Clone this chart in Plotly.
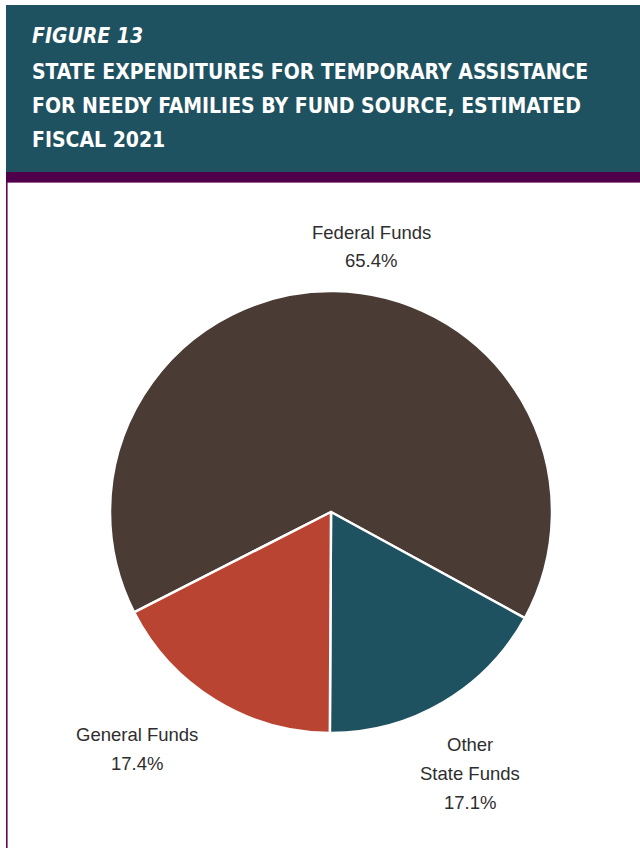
import plotly.graph_objects as go

# Fund sources and their shares of estimated fiscal 2021 TANF spending (%)
sources = ["Federal Funds", "Other<br>State Funds", "General Funds"]
shares = [65.4, 17.1, 17.4]
colors = ["#4a3b35", "#1f5261", "#b94431"]

W, H = 640, 848

def px_x(x):
    return x / W

def px_y(y):
    return 1 - y / H

fig = go.Figure(go.Pie(
    labels=sources,
    values=shares,
    sort=False,
    direction="clockwise",
    rotation=243,
    marker=dict(colors=colors, line=dict(color="white", width=2.5)),
    textinfo="none",
    hoverinfo="label+percent",
    showlegend=False,
    domain=dict(x=[px_x(110), px_x(552)], y=[px_y(733), px_y(291)]),
))

# Outside labels around the pie, one annotation per line for wider leading
label_anchor = [(371, 232), (470, 744), (137, 734)]
line_gap = 29
label_font = dict(family="Liberation Sans, Arial, sans-serif", size=18.5, color="#2e2e2e")
annotations = []
for name, val, (lx, ly) in zip(sources, shares, label_anchor):
    lines = name.split("<br>") + [f"{val:.1f}%"]
    for k, txt in enumerate(lines):
        annotations.append(dict(
            x=px_x(lx), y=px_y(ly + k * line_gap), xref="paper", yref="paper",
            text=txt, showarrow=False, font=label_font,
            xanchor="center", yanchor="middle",
        ))

# Header titles
title_font = dict(family="DejaVu Sans Condensed, Liberation Sans, sans-serif", size=21, color="white")
annotations.append(dict(
    x=px_x(30), y=px_y(36), xref="paper", yref="paper",
    text="<b><i>FIGURE 13</i></b>", showarrow=False,
    font=title_font, xanchor="left", yanchor="middle",
))
for i, line in enumerate([
    "STATE EXPENDITURES FOR TEMPORARY ASSISTANCE",
    "FOR NEEDY FAMILIES BY FUND SOURCE, ESTIMATED",
    "FISCAL 2021",
]):
    annotations.append(dict(
        x=px_x(30), y=px_y(72 + 34 * i), xref="paper", yref="paper",
        text=f"<b>{line}</b>", showarrow=False,
        font=title_font, xanchor="left", yanchor="middle",
    ))

shapes = [
    # teal header band
    dict(type="rect", xref="paper", yref="paper", layer="below",
         x0=px_x(6), x1=1, y0=px_y(172), y1=px_y(5),
         fillcolor="#1f5261", line=dict(width=0)),
    # purple rule under header
    dict(type="rect", xref="paper", yref="paper", layer="below",
         x0=px_x(6), x1=1, y0=px_y(182), y1=px_y(172),
         fillcolor="#50004a", line=dict(width=0)),
    dict(type="line", xref="paper", yref="paper", layer="below",
         x0=px_x(6), x1=1, y0=px_y(182.5), y1=px_y(182.5),
         line=dict(color="#9a5a94", width=1)),
    # left border
    dict(type="line", xref="paper", yref="paper", layer="below",
         x0=px_x(6.8), x1=px_x(6.8), y0=0, y1=px_y(182),
         line=dict(color="#5c0a5a", width=1.6)),
]

fig.update_layout(
    width=W, height=H,
    margin=dict(l=0, r=0, t=0, b=0),
    paper_bgcolor="white",
    plot_bgcolor="white",
    shapes=shapes,
    annotations=annotations,
)

fig.write_html("out.html")
